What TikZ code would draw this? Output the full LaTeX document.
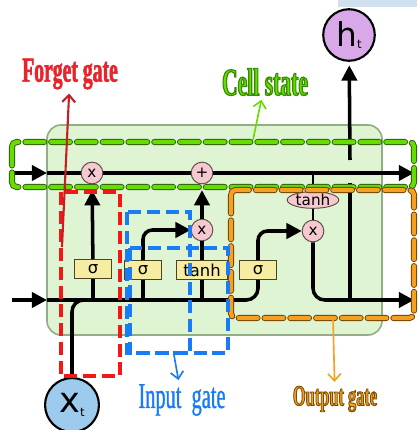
\documentclass[tikz,border=0pt]{standalone}
\usepackage{fontspec}
\setsansfont{DejaVu Sans}
\newfontfamily\gatefont[FakeStretch=0.56,FakeBold=0.8]{Liberation Serif}
\newfontfamily\heavyfont[FakeStretch=0.56,FakeBold=1.5]{Liberation Serif}
\newfontfamily\outlinefont[FakeStretch=0.56,FakeBold=3]{Liberation Serif}
\usetikzlibrary{shapes.geometric, arrows.meta, positioning, calc}

\definecolor{cellfill}{HTML}{DFF4D2}
\definecolor{cellborder}{HTML}{93AD84}
\definecolor{sigfill}{HTML}{F6EDA2}
\definecolor{sigborder}{HTML}{4A4420}
\definecolor{opfill}{HTML}{F5C9CF}
\definecolor{opborder}{HTML}{5A4A4A}
\definecolor{htfill}{HTML}{D8A8E8}
\definecolor{xtfill}{HTML}{9DCBEE}
\definecolor{lime}{HTML}{66DD00}
\definecolor{limedark}{HTML}{2F5A0A}
\definecolor{orangebox}{HTML}{F5A020}
\definecolor{orangedark}{HTML}{6B4000}
\definecolor{dashred}{HTML}{F21818}
\definecolor{dashblue}{HTML}{1A7CF5}
\definecolor{forgetred}{HTML}{E8242C}
\definecolor{topstrip}{HTML}{CFE0EE}

% stroke colour for outlined labels
\newcommand{\strokecol}[1]{\special{pdf:code #1 RG}}

\begin{document}
\begin{tikzpicture}[
    x=0.03cm, y=-0.03cm,
    line/.style={line width=3pt, black},
    thinline/.style={line width=2pt, black},
    arr/.style={line, -{Triangle[length=13pt, width=13pt]}},
    sig/.style={draw=sigborder, fill=sigfill, line width=0.8pt, minimum width=31.5pt, minimum height=16pt, inner sep=0pt, font=\sffamily\fontsize{14}{14}\selectfont},
    op/.style={draw=opborder, fill=opfill, circle, line width=0.8pt, minimum size=18.5pt, inner sep=0pt, font=\sffamily\fontsize{13}{13}\selectfont},
    io/.style={draw=black, circle, line width=1.8pt, inner sep=0pt},
    cellbox/.style={draw=limedark, double=lime, double distance=3.6pt, line width=0.8pt, dash pattern=on 16pt off 6pt, line cap=round, rounded corners=4pt},
    outbox/.style={draw=orangedark, double=orangebox, double distance=3.6pt, line width=0.8pt, dash pattern=on 16pt off 6pt, line cap=round, rounded corners=4pt},
    forgetbox/.style={draw=dashred, line width=3pt, dash pattern=on 11pt off 5pt},
    inbox/.style={draw=dashblue, line width=3pt, dash pattern=on 11pt off 5pt},
    pointer/.style={-{Straight Barb[length=6pt, width=11pt]}}
]
\useasboundingbox (0,0) rectangle (417,430);
\fill[topstrip] (338,0) rectangle (417,7);

% Cell body
\draw[cellborder, fill=cellfill, line width=1.4pt, rounded corners=12pt] (47,125) rectangle (382,335);

% Nodes
\node[op] (m1) at (92,173) {x};
\node[op] (p1) at (202,173) {+};
\node[op] (m2) at (202,230) {x};
\node[op] (m3) at (313,231) {x};
\node[op, ellipse, minimum width=44pt, minimum height=13pt] (th) at (313,200) {tanh};

\node[sig] (s1) at (93,269) {σ};
\node[sig] (s2) at (143,270) {σ};
\node[sig, minimum width=44pt] (t1) at (202,270) {tanh};
\node[sig] (s4) at (258,270) {σ};

\node[io, fill=htfill, minimum size=44pt] (ht) at (349,35) {\sffamily\fontsize{28}{28}\selectfont h\raisebox{-1pt}{\fontsize{10}{10}\selectfont t}};
\node[io, fill=xtfill, minimum size=46pt] (xt) at (72,405) {\sffamily\fontsize{30}{30}\selectfont x\raisebox{-3pt}{\fontsize{10}{10}\selectfont t}};

\coordinate (cstart) at (12,173);
\coordinate (cin) at (47,173);
\coordinate (cout) at (414,173);
\coordinate (ctap) at (313,173);
\coordinate (hstart) at (12,300);
\coordinate (hin) at (47,300);
\coordinate (hout) at (414,300);
\coordinate (hlow) at (350,300);
\coordinate (hgap1) at (350,183);
\coordinate (hgap2) at (350,160);
\coordinate (xjoin) at (92,300);

% Cell state
\draw[arr] (cstart) -- (cin);
\draw[line] (cin) -- (m1);
\draw[line] (m1) -- (p1);
\draw[arr] (p1) -- (cout);
\draw[thinline] (ctap) -- (th);
\draw[thinline] (th) -- (m3);

% Hidden state and gates
\draw[arr] (hstart) -- (hin);
\draw[line, rounded corners=10pt] (hin) -| (s4);
\draw[line, rounded corners=10pt] (xt) |- (xjoin);
\draw[line] (s1 |- hin) -- (s1);
\draw[line] (s2 |- hin) -- (s2);
\draw[line] (t1 |- hin) -- (t1);
\draw[arr, shorten >=5pt] (s1) -- (m1);
\draw[arr, rounded corners=8pt] (s2) |- (m2);
\draw[line] (t1) -- (m2);
\draw[arr, shorten >=5pt] (m2) -- (p1);
\draw[arr, rounded corners=8pt] (s4) |- (m3);
\draw[arr, rounded corners=10pt] (m3) |- (hout);
\draw[line] (hlow) -- (hgap1);
\draw[arr, shorten >=3pt] (hgap2) -- (ht);

% Gate boxes
\draw[cellbox] (12,142) rectangle (414,187);
\draw[outbox] (231,190) rectangle (414,318);
\draw[forgetbox] (61,192) rectangle (120,376);
\draw[inbox] (127,212) rectangle (190,353);
\draw[inbox] (130,248) rectangle (228,353);

% Labels
\node[text=forgetred, font=\heavyfont\bfseries\fontsize{30}{30}\selectfont] (flab) at (70,74) {Forget gate};
\node[text=lime, font=\outlinefont\bfseries\fontsize{33}{33}\selectfont] (clab) at (265,82) {\strokecol{0.22 0.55 0.02}Cell state};
\node[text=dashblue, font=\gatefont\fontsize{31}{31}\selectfont] (ilab) at (182,400) {Input\ \ gate};
\node[text=orangebox, font=\outlinefont\bfseries\fontsize{25}{25}\selectfont] (olab) at (335,399) {\strokecol{0.5 0.3 0}Output gate};

\coordinate (ftail) at (62,247);
\coordinate (ctail) at (253,140);
\coordinate (itail) at (174,355);
\coordinate (otail) at (333,318);
\draw[pointer, draw=forgetred!85!black, line width=1.8pt] (ftail) -- (flab);
\draw[pointer, draw=lime, line width=1.4pt] (ctail) -- (clab);
\draw[pointer, draw=dashblue, line width=1.4pt] (itail) -- (ilab);
\draw[pointer, draw=orangebox, line width=1.4pt] (otail) -- (olab);

\end{tikzpicture}
\end{document}
